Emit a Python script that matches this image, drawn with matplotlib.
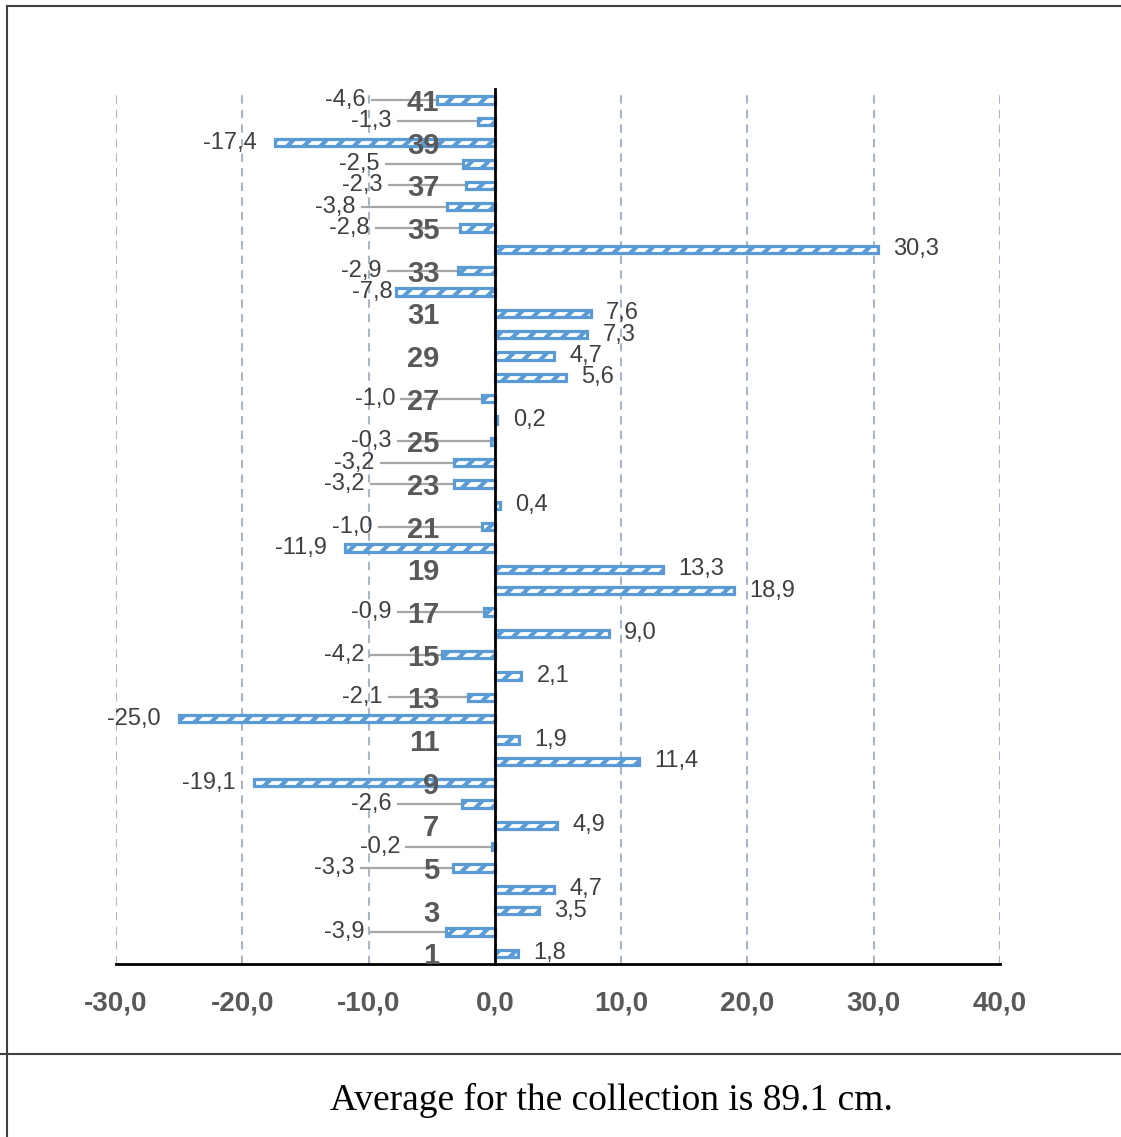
import matplotlib
matplotlib.use("Agg")
import matplotlib.pyplot as plt
from matplotlib.lines import Line2D
from matplotlib.ticker import FuncFormatter

# deviation of each accession from the collection mean, cm
accessions = list(range(1, 42))
deviation = [1.8, -3.9, 3.5, 4.7, -3.3, -0.2, 4.9, -2.6, -19.1, 11.4,
             1.9, -25.0, -2.1, 2.1, -4.2, 9.0, -0.9, 18.9, 13.3, -11.9,
             -1.0, 0.4, -3.2, -3.2, -0.3, 0.2, -1.0, 5.6, 4.7, 7.3,
             7.6, -7.8, -2.9, 30.3, -2.8, -3.8, -2.3, -2.5, -17.4, -1.3,
             -4.6]
xticks = [-30, -20, -10, 0, 10, 20, 30, 40]
caption = "Average for the collection is 89.1 cm."

# where the small negative labels sit (right edge, x units); they get a leader line
leader_x = {41: -10.2, 40: -8.2, 38: -9.1, 37: -8.9, 36: -11.0, 35: -9.9,
            33: -9.0, 32: -8.1, 27: -7.9, 25: -8.2, 24: -9.5, 23: -10.3,
            21: -9.7, 17: -8.2, 15: -10.3, 13: -8.9, 8: -8.2, 6: -7.5,
            5: -11.1, 2: -10.3}

BLUE = "#5B9BD5"
plt.rcParams["hatch.linewidth"] = 3.0
plt.rcParams["font.family"] = ["Liberation Sans", "DejaVu Sans"]

fig = plt.figure(figsize=(11.21, 11.37), dpi=100)
ax = fig.add_axes([0.1035, 0.1522, 0.7886, 0.7693])

ax.barh(accessions, deviation, height=0.35, color="white", edgecolor=BLUE,
        linewidth=2.3, hatch="//", zorder=3)

ax.set_xlim(-30, 40)
ax.set_ylim(0.5, 41.5)

# value labels
for acc, val in zip(accessions, deviation):
    txt = f"{val:.1f}".replace(".", ",")
    if val >= 0:
        ax.annotate(txt, (val, acc), xytext=(11, 0), textcoords="offset points",
                    ha="left", va="center", fontsize=17, color="#404040")
    elif acc in leader_x:
        lx = leader_x[acc]
        ax.text(lx, acc, txt, ha="right", va="center", fontsize=17, color="#404040")
        if val - lx > 0.8:
            ax.plot([lx + 0.5, val], [acc, acc], color="#A6A6A6", lw=1.6, zorder=2)
    else:
        ax.annotate(txt, (val, acc), xytext=(-13, 0), textcoords="offset points",
                    ha="right", va="center", fontsize=17, color="#404040")

# dashed vertical gridlines
for x in xticks:
    if x != 0:
        ax.axvline(x, color="#A9B6C8", lw=1.5, ls=(0, (4, 3)), zorder=1)

for s in ["top", "right"]:
    ax.spines[s].set_visible(False)
ax.spines["left"].set_position(("data", 0))
ax.spines["left"].set_linewidth(2)
ax.spines["left"].set_zorder(4)
ax.spines["bottom"].set_linewidth(2)

ax.set_xticks(xticks)
ax.xaxis.set_major_formatter(FuncFormatter(lambda v, p: f"{v:.1f}".replace(".", ",")))
ax.set_yticks(accessions[::2])
ax.yaxis.set_zorder(5)  # category numbers stay on top of the bars
ax.tick_params(axis="both", length=0)
ax.tick_params(axis="x", pad=19)
ax.tick_params(axis="y", pad=40)
for lab in ax.get_xticklabels():
    lab.set_fontweight("bold")
    lab.set_fontsize(20)
    lab.set_color("#595959")
for lab in ax.get_yticklabels():
    lab.set_fontweight("bold")
    lab.set_fontsize(21)
    lab.set_color("#595959")

# frame and caption row
H, W = 1137, 1121
fig.add_artist(Line2D([7 / W, 7 / W], [0, 1 - 6 / H], color="#404040", lw=1.5))
fig.add_artist(Line2D([7 / W, 1], [1 - 6 / H, 1 - 6 / H], color="#404040", lw=1.5))
fig.add_artist(Line2D([0, 1], [1 - 1054 / H, 1 - 1054 / H], color="#404040", lw=1.5))
fig.text(611 / W, 1 - 1100 / H, caption, ha="center", va="center",
         fontsize=27, family=["Liberation Serif", "DejaVu Serif"], color="black")

fig.savefig("out.png", dpi=100)
